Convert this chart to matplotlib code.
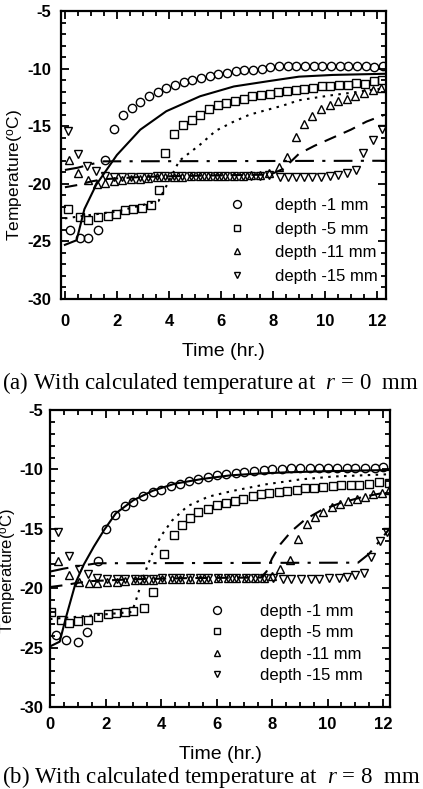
import matplotlib
matplotlib.use('Agg')
import matplotlib.pyplot as plt
from matplotlib.ticker import MultipleLocator

plt.rcParams['font.family'] = ['Liberation Sans', 'DejaVu Sans']
plt.rcParams['axes.unicode_minus'] = False
plt.rcParams['mathtext.fontset'] = 'custom'
plt.rcParams['mathtext.rm'] = 'Liberation Serif'
plt.rcParams['mathtext.it'] = 'Liberation Serif:italic'
plt.rcParams['mathtext.sf'] = 'Liberation Sans'

labels = ['depth -1 mm', 'depth -5 mm', 'depth -11 mm', 'depth -15 mm']

# ---------------- (a) r = 0 mm ----------------
# measured, depth -1 mm
c1_a_t = [0.2, 0.58, 0.88, 1.27, 1.55,
          1.9, 2.23, 2.57, 2.9, 3.23, 3.57, 3.9, 4.23, 4.57, 4.9, 5.23, 5.57, 5.9, 6.23, 6.57, 6.9,
          7.23, 7.57, 7.9, 8.23, 8.57, 8.9, 9.23, 9.57, 9.9, 10.23, 10.57, 10.9, 11.23, 11.57, 11.9, 12.23]
c1_a_T = [-24.05, -24.7, -24.7, -24.05, -17.9,
          -15.2, -14.0, -13.4, -12.9, -12.4, -12.0, -11.7, -11.4, -11.2, -11.0, -10.85, -10.65, -10.5, -10.35, -10.2, -10.15,
          -10.1, -10.0, -9.9, -9.8, -9.75, -9.75, -9.75, -9.75, -9.75, -9.75, -9.75, -9.8, -9.8, -9.8, -9.85, -9.75]
# measured, depth -5 mm
c5_a_t = [0.1, 0.58, 0.88, 1.27, 1.65, 1.98, 2.3, 2.6, 2.95, 3.3, 3.6, 3.85,
          4.2, 4.53, 4.87, 5.2, 5.53, 5.87, 6.2, 6.53, 6.87, 7.2, 7.53, 7.87, 8.2, 8.53, 8.87,
          9.2, 9.53, 9.87, 10.2, 10.53, 10.87, 11.2, 11.53, 11.87, 12.2]
c5_a_T = [-22.2, -22.9, -23.1, -22.9, -22.8, -22.6, -22.3, -22.2, -22.1, -21.8, -20.5, -17.3,
          -15.7, -14.9, -14.5, -14.05, -13.5, -13.2, -12.95, -12.8, -12.6, -12.4, -12.3, -12.2, -12.0, -11.95, -11.9,
          -11.75, -11.65, -11.55, -11.55, -11.45, -11.4, -11.25, -11.3, -11.1, -11.0]
# measured, depth -11 mm
c11_a_t = [0.15, 0.5, 0.9, 1.25, 1.55, 1.9, 2.2, 2.55, 2.9, 3.2, 3.55, 3.85, 4.2, 4.5, 4.85, 5.2, 5.5, 5.85,
           6.15, 6.5, 6.85, 7.15, 7.5, 7.85, 8.25, 8.55, 8.9, 9.2, 9.5, 9.85, 10.2, 10.5, 10.85, 11.15, 11.5, 11.85, 12.15]
c11_a_T = [-17.9, -19.1, -19.7, -20.0, -19.9, -19.8, -19.7, -19.6, -19.55, -19.5, -19.45, -19.45, -19.4, -19.4, -19.35, -19.35,
           -19.35, -19.3, -19.3, -19.3, -19.3, -19.25, -19.25, -19.1, -18.5, -17.7, -15.95, -14.8, -14.1, -13.55, -13.15,
           -12.85, -12.65, -12.4, -12.1, -11.9, -11.7]
# measured, depth -15 mm
c15_a_t = [0.12, 0.5, 0.85, 1.2, 1.55, 1.9, 2.2, 2.55, 2.9, 3.2, 3.55, 3.85, 4.2, 4.5, 4.85, 5.2, 5.5, 5.85,
           6.15, 6.5, 6.85, 7.15, 7.5, 7.85, 8.27, 8.58, 8.9, 9.2, 9.5, 9.85, 10.2, 10.5, 10.85, 11.2, 11.46, 11.85, 12.2]
c15_a_T = [-15.45, -17.4, -18.45, -18.9, -19.3, -19.45, -19.45, -19.4, -19.4, -19.4, -19.35, -19.35, -19.35, -19.35,
           -19.35, -19.35, -19.35, -19.35, -19.35, -19.35, -19.35, -19.35, -19.3, -19.25, -19.45, -19.45, -19.45, -19.45,
           -19.4, -19.4, -19.35, -19.25, -19.05, -18.8, -17.3, -16.2, -15.2]

# calculated curves (a)
s1_a_t = [0, 0.45, 0.75, 1.2, 2.0, 2.9, 3.9, 5.2, 6.5, 7.8, 9.0, 10.3, 12.3]
s1_a_T = [-25.3, -24.9, -22.2, -20.1, -17.5, -15.3, -13.7, -12.4, -11.55, -11.1, -10.7, -10.55, -10.45]
s5_a_t = [0, 2.0, 3.6, 3.9, 4.4, 5.2, 5.8, 6.45, 7.1, 7.75, 8.4, 9.0, 9.7, 10.3, 11.0, 11.6, 12.3]
s5_a_T = [-23.0, -22.4, -21.5, -20.2, -18.0, -16.6, -15.4, -14.65, -14.0, -13.6, -13.2, -12.75, -12.5, -12.3, -12.1, -11.9, -11.7]
s11_a_t = [0, 0.5, 1.0, 1.5, 3.0, 5.0, 7.9, 8.4, 9.0, 9.6, 10.3, 11.0, 11.6, 12.3]
s11_a_T = [-20.3, -20.1, -19.8, -19.6, -19.4, -19.3, -19.2, -18.7, -17.4, -16.7, -16.0, -15.3, -14.6, -14.0]
s15_a_t = [0, 0.5, 1.0, 1.5, 12.3]
s15_a_T = [-18.8, -18.6, -18.3, -18.05, -18.0]

# ---------------- (b) r = 8 mm ----------------
c1_b_t = [0.22, 0.57, 1.0, 1.33, 1.72,
          2.0, 2.35, 2.7, 3.0, 3.35, 3.7, 4.0, 4.35, 4.7, 5.0, 5.35, 5.7, 6.0, 6.35, 6.7, 7.0,
          7.35, 7.7, 8.0, 8.35, 8.7, 9.0, 9.35, 9.7, 10.0, 10.35, 10.7, 11.0, 11.35, 11.7, 12.0]
c1_b_T = [-23.9, -24.4, -24.5, -23.7, -17.75,
          -15.0, -13.8, -13.1, -12.75, -12.25, -11.9, -11.7, -11.4, -11.2, -11.0, -10.8, -10.65, -10.5, -10.4, -10.3, -10.2,
          -10.1, -10.05, -10.0, -9.95, -9.9, -9.9, -9.85, -9.85, -9.85, -9.85, -9.85, -9.85, -9.85, -9.9, -9.8]
c5_b_t = [0.04, 0.4, 0.7, 1.0, 1.37, 1.72, 2.08, 2.37, 2.72, 3.0, 3.4, 3.72,
          4.1, 4.45, 4.77, 5.05, 5.35, 5.7, 6.0, 6.35, 6.65, 6.95, 7.3, 7.6, 7.9, 8.25, 8.55, 8.9,
          9.2, 9.5, 9.85, 10.2, 10.5, 10.85, 11.15, 11.5, 11.85, 12.2]
c5_b_T = [-22.0, -22.7, -22.9, -22.8, -22.65, -22.4, -22.2, -22.1, -22.0, -21.95, -21.65, -20.3,
          -17.15, -15.55, -14.7, -14.05, -13.6, -13.3, -13.0, -12.85, -12.7, -12.45, -12.25, -12.1, -11.95, -11.9, -11.8, -11.7,
          -11.6, -11.55, -11.5, -11.4, -11.35, -11.3, -11.3, -11.2, -11.1, -11.15]
c11_b_t = [0.3, 0.68, 1.05, 1.4, 1.7, 2.05, 2.4, 2.7, 3.05, 3.4, 3.7, 4.05, 4.4, 4.7, 5.05, 5.4, 5.7, 6.05, 6.4,
           6.7, 7.05, 7.4, 7.7, 8.0, 8.3, 8.65, 8.95, 9.25, 9.55, 9.85, 10.15, 10.45, 10.75, 11.05, 11.35, 11.65, 11.95, 12.2]
c11_b_T = [-17.75, -18.9, -19.5, -19.6, -19.6, -19.5, -19.45, -19.4, -19.35, -19.3, -19.3, -19.25, -19.25, -19.2, -19.2,
           -19.2, -19.2, -19.15, -19.15, -19.15, -19.15, -19.1, -19.1, -19.0, -18.4, -17.6, -15.9, -14.6, -14.0, -13.6,
           -13.2, -12.95, -12.7, -12.45, -12.3, -12.1, -11.95, -11.75]
c15_b_t = [0.3, 0.68, 1.05, 1.37, 1.7, 2.05, 2.4, 2.7, 3.05, 3.4, 3.7, 4.05, 4.4, 4.7, 5.05, 5.4, 5.7, 6.05, 6.4,
           6.7, 7.05, 7.4, 7.7, 8.05, 8.4, 8.7, 9.05, 9.4, 9.7, 10.05, 10.4, 10.7, 11.0, 11.3, 11.55, 11.9, 12.15]
c15_b_T = [-15.3, -17.25, -18.4, -18.8, -19.1, -19.2, -19.2, -19.2, -19.2, -19.2, -19.2, -19.15, -19.15, -19.15, -19.15,
           -19.15, -19.15, -19.15, -19.15, -19.1, -19.1, -19.1, -19.1, -19.15, -19.2, -19.2, -19.2, -19.2, -19.2, -19.15,
           -19.1, -19.05, -18.9, -18.7, -17.4, -16.05, -15.3]

s1_b_t = [0, 0.35, 0.57, 0.93, 1.22, 1.58, 1.95, 2.37, 3.0, 3.7, 4.5, 5.5, 6.5, 7.5, 8.5, 10.0, 12.3]
s1_b_T = [-24.9, -24.5, -22.5, -19.5, -18.0, -16.5, -15.1, -13.7, -12.6, -11.8, -11.2, -10.8, -10.5, -10.35, -10.25, -10.15, -10.05]
s5_b_t = [0, 1.5, 2.95, 3.1, 3.3, 3.5, 3.7, 4.0, 4.4, 4.95, 5.7, 6.6, 7.8, 9.0, 10.2, 12.3]
s5_b_T = [-22.6, -22.3, -22.0, -21.0, -19.5, -18.2, -17.0, -15.6, -14.3, -13.1, -12.3, -11.8, -11.25, -10.85, -10.6, -10.4]
s11_b_t = [0, 0.5, 1.0, 1.5, 3.0, 5.0, 7.6, 7.8, 8.0, 8.3, 8.7, 9.2, 9.8, 10.5, 11.3, 12.3]
s11_b_T = [-19.9, -19.75, -19.55, -19.4, -19.25, -19.15, -19.1, -18.6, -17.5, -16.3, -15.2, -14.2, -13.4, -12.8, -12.3, -11.85]
s15_b_t = [0, 0.5, 1.0, 1.7, 11.1, 11.5, 12.3]
s15_b_T = [-18.6, -18.35, -18.15, -17.9, -17.85, -17.1, -14.8]

marker_kw = dict(ls='none', mfc='none', mec='black', mew=1.0, color='black')


def draw_panel(ax, meas, calc, xlim, leg_anchor, leg_pad, leg_space, xpad, ypad, ylab_size):
    markers = ['o', 's', '^', 'v']
    sizes = [6.0, 5.2, 5.2, 5.2]
    handles = []
    for (t, T), m, ms in zip(meas, markers, sizes):
        h, = ax.plot(t, T, marker=m, ms=ms, **marker_kw)
        handles.append(h)
    styles = ['-', (0, (1.2, 2.6)), (0, (6, 4)), (0, (9, 4, 1.5, 4))]
    for (t, T), st in zip(calc, styles):
        ax.plot(t, T, color='black', lw=1.5, ls=st)

    ax.set_xlim(*xlim)
    ax.set_ylim(-30, -5)
    ax.xaxis.set_major_locator(MultipleLocator(2))
    ax.xaxis.set_minor_locator(MultipleLocator(0.5))
    ax.yaxis.set_major_locator(MultipleLocator(5))
    ax.yaxis.set_minor_locator(MultipleLocator(1))
    ax.tick_params(which='both', direction='in', top=True, right=True, width=1.3)
    ax.tick_params(which='major', length=6)
    ax.tick_params(which='minor', length=3.5)
    ax.tick_params(axis='y', pad=ypad)
    ax.tick_params(axis='x', pad=xpad)
    for lab in ax.get_xticklabels() + ax.get_yticklabels():
        lab.set_fontweight('bold')
        lab.set_fontsize(12)
    for sp in ax.spines.values():
        sp.set_linewidth(1.6)
    ax.set_xlabel('Time (hr.)', fontsize=14, labelpad=10)
    ax.set_ylabel('Temperature($^{\\mathsf{o}}$C)', fontsize=ylab_size)

    ax.legend(handles, labels, loc='upper left', bbox_to_anchor=leg_anchor, frameon=False,
              fontsize=12, handlelength=1.0, handletextpad=leg_pad, labelspacing=leg_space,
              borderpad=0, borderaxespad=0, markerscale=0.95)


fig = plt.figure(figsize=(4.23, 7.89), dpi=100)

ax_a = fig.add_axes([61 / 423, 1 - 299 / 789, 325 / 423, 288 / 789])
draw_panel(ax_a,
           [(c1_a_t, c1_a_T), (c5_a_t, c5_a_T), (c11_a_t, c11_a_T), (c15_a_t, c15_a_T)],
           [(s1_a_t, s1_a_T), (s5_a_t, s5_a_T), (s11_a_t, s11_a_T), (s15_a_t, s15_a_T)],
           (-0.15, 12.35), (0.516, 0.351), 1.78, 0.52, 11, 7, 12.5)
ax_a.yaxis.set_label_coords(-0.108, 0.43)

ax_b = fig.add_axes([50 / 423, 1 - 707 / 789, 340 / 423, 297 / 789])
draw_panel(ax_b,
           [(c1_b_t, c1_b_T), (c5_b_t, c5_b_T), (c11_b_t, c11_b_T), (c15_b_t, c15_b_T)],
           [(s1_b_t, s1_b_T), (s5_b_t, s5_b_T), (s11_b_t, s11_b_T), (s15_b_t, s15_b_T)],
           (0, 12.25), (0.466, 0.347), 2.07, 0.38, 7.5, 5, 12)
ax_b.yaxis.set_label_coords(-0.092, 0.46)

# captions under each panel
fig.text(2 / 423, 1 - 383 / 789, '(a) With calculated temperature at  $r$ = 0  mm',
         family='Liberation Serif', fontsize=16.5, ha='left', va='center')
fig.text(2 / 423, 1 - 777 / 789, '(b) With calculated temperature at  $r$ = 8  mm',
         family='Liberation Serif', fontsize=16.5, ha='left', va='center')

fig.savefig('out.png', dpi=100)
